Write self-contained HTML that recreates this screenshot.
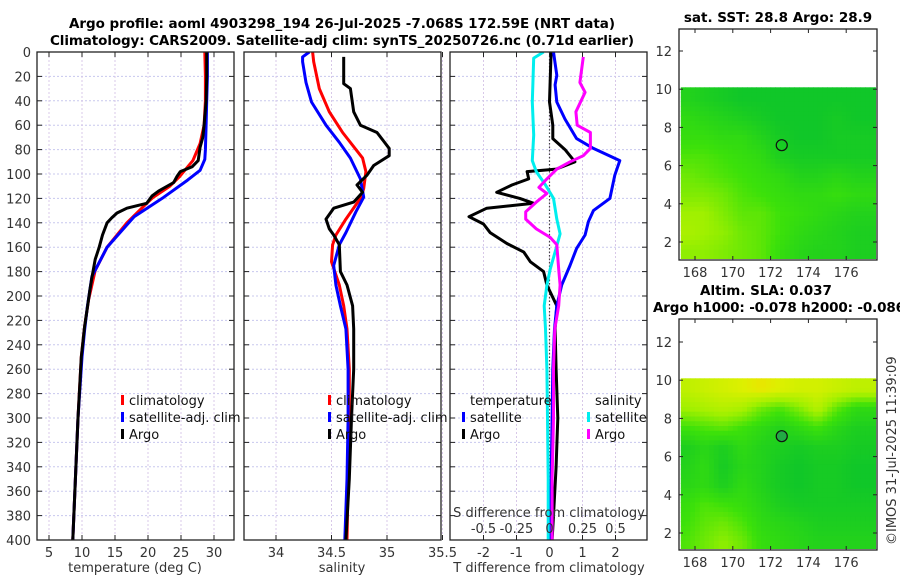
<!DOCTYPE html>
<html><head><meta charset="utf-8"><title>Argo profile</title>
<style>
html,body{margin:0;padding:0;background:#fff;}
svg{display:block;font-family:"DejaVu Sans","Liberation Sans",sans-serif;}
.tk{font-size:13px;fill:#333;}
.tt{font-size:13.5px;font-weight:bold;fill:#000;}
.lg{font-size:13px;fill:#111;}
</style></head>
<body>
<svg id="chart" width="900" height="580" viewBox="0 0 900 580" xmlns="http://www.w3.org/2000/svg">
<text class="tt" x="342" y="28" text-anchor="middle" textLength="546">Argo profile: aoml 4903298_194 26-Jul-2025 -7.068S 172.59E (NRT data)</text>
<text class="tt" x="342" y="45" text-anchor="middle" textLength="584">Climatology: CARS2009. Satellite-adj clim: synTS_20250726.nc (0.71d earlier)</text>
<text class="tt" x="778" y="22" text-anchor="middle">sat. SST: 28.8 Argo: 28.9</text>
<text class="tt" x="766" y="295" text-anchor="middle">Altim. SLA: 0.037</text>
<text class="tt" x="653" y="312" textLength="252">Argo h1000: -0.078 h2000: -0.086</text>
<text class="tk" transform="translate(896,545) rotate(-90)">©IMOS 31-Jul-2025 11:39:09</text>
<g id="layer"></g>
</svg>
<script>
// ---- data ----
const depthTicks = [0,20,40,60,80,100,120,140,160,180,200,220,240,260,280,300,320,340,360,380,400];
const tempTicks = [5,10,15,20,25,30];
const salTicks = [34,34.5,35,35.5];
const salTickLabels = ["34","34.5","35","35.5"];
const tdiffTicks = [-2,-1,0,1,2];
const sdiffTicks = [-0.5,-0.25,0,0.25,0.5];
const sdiffTickLabels = ["-0.5","-0.25","0","0.25","0.5"];

const argoTDepth = [0,20,40,60,70,78,89,94,98,102,107,114,118,124,128,132,136,140,150,160,170,185,195,210,225,250,300,350,400];
const argoTValue = [28.9,28.9,28.8,28.5,28.3,27.9,27.6,26.7,24.9,24.4,23.9,21.6,20.6,19.8,16.8,15.3,14.5,13.8,13.1,12.6,12.0,11.5,11.2,10.8,10.4,9.9,9.4,9.0,8.6];
const climTDepth = [0,20,40,60,75,89,102,110,119,124,140,160,179,203,225,250,300,350,400];
const climTValue = [28.6,28.7,28.7,28.5,27.9,26.8,24.8,23.3,20.8,19.8,16.8,13.8,12.0,11.0,10.4,9.9,9.4,9.0,8.6];
const satTDepth = [0,20,40,60,80,88,97,105,119,135,160,184,209,228,250,300,350,400];
const satTValue = [29.0,29.0,28.9,28.8,28.7,28.6,27.9,26.0,22.4,17.9,13.8,11.5,10.8,10.4,10.0,9.4,9.0,8.6];

const argoSDepth = [4,26,30,49,60,66,79,85,93,101,109,115,123,128,137,145,150,158,180,191,208,227,260,300,350,400];
const argoSValue = [34.61,34.61,34.67,34.70,34.76,34.91,35.02,35.02,34.88,34.82,34.73,34.78,34.70,34.52,34.45,34.48,34.52,34.57,34.58,34.64,34.69,34.70,34.70,34.68,34.66,34.63];
const climSDepth = [0,8,30,49,66,87,98,112,120,137,150,158,172,191,208,227,260,300,350,400];
const climSValue = [34.33,34.34,34.39,34.48,34.60,34.78,34.81,34.79,34.76,34.63,34.54,34.51,34.50,34.57,34.61,34.64,34.66,34.66,34.65,34.64];
const satSDepth = [0,4,8,25,41,60,74,87,104,119,131,148,158,175,191,208,227,260,300,350,400];
const satSValue = [34.30,34.24,34.24,34.27,34.32,34.45,34.57,34.67,34.76,34.79,34.72,34.63,34.57,34.52,34.54,34.58,34.63,34.65,34.65,34.64,34.62];

const argoTdDepth = [0,41,60,71,80,90,96,98,104,109,115,120,124,128,135,141,148,157,164,172,180,191,208,227,260,300,340,380,400];
const argoTdValue = [0.05,0.0,0.1,0.1,0.47,0.77,0.2,-0.68,-0.63,-1.14,-1.6,-0.9,-0.48,-1.9,-2.44,-2.0,-1.8,-1.29,-0.78,-0.58,-0.18,-0.08,0.22,0.17,0.2,0.25,0.2,0.12,0.08];
const satTdDepth = [0,19,27,41,55,71,79,89,101,120,130,139,150,161,175,191,208,227,260,300,350,400];
const satTdValue = [0.12,0.22,0.17,0.22,0.47,0.82,1.33,2.13,1.98,1.83,1.33,1.18,1.08,0.82,0.62,0.37,0.22,0.15,0.1,0.08,0.05,0.03];
const satSdDepth = [0,5,41,68,89,98,109,120,137,149,161,178,191,208,227,260,300,350,400];
const satSdValue = [-0.045,-0.12,-0.13,-0.12,-0.13,-0.1,-0.03,0.03,0.055,0.08,0.05,0.005,-0.02,-0.04,-0.03,-0.02,-0.015,-0.01,-0.01];
const argoSdDepth = [4,25,33,49,60,66,79,85,90,96,104,111,116,123,131,137,145,152,158,178,191,208,227,260,300,350,400];
const argoSdValue = [0.256,0.23,0.27,0.2,0.21,0.31,0.31,0.256,0.156,0.055,-0.02,-0.08,-0.02,-0.1,-0.18,-0.18,-0.1,0.005,0.055,0.07,0.08,0.07,0.04,0.03,0.03,0.02,0.02];

const lonTicks = [168,170,172,174,176];
const latTicks = [2,4,6,8,10,12];
const gridLons = [167.5,168.5,169.5,170.5,171.5,172.5,173.5,174.5,175.5,176.5,177.5];
const gridLats = [9.5,8.5,7.5,6.5,5.5,4.5,3.5,2.5,1.5];
const sstGrid = [
[0.2,0.15,0.1,0.05,0.05,0.05,0.05,0.05,0.05,0.05,0.05],
[0.3,0.25,0.2,0.15,0.1,0.05,0.05,0.05,0.1,0.05,0.05],
[0.35,0.35,0.3,0.3,0.2,0.1,0.05,0.05,0.1,0.1,0.1],
[0.45,0.45,0.4,0.35,0.3,0.15,0.1,0.1,0.1,0.1,0.1],
[0.55,0.5,0.45,0.4,0.35,0.3,0.2,0.2,0.25,0.2,0.2],
[0.6,0.6,0.55,0.45,0.4,0.35,0.3,0.3,0.35,0.3,0.3],
[0.7,0.7,0.6,0.5,0.5,0.4,0.35,0.3,0.25,0.2,0.2],
[0.75,0.7,0.65,0.55,0.5,0.4,0.3,0.25,0.2,0.15,0.15],
[0.65,0.65,0.6,0.55,0.5,0.35,0.25,0.2,0.2,0.15,0.15]];
const slaGrid = [
[0.85,0.9,0.95,1.0,1.05,1.0,0.95,0.95,0.9,0.85,0.85],
[0.7,0.75,0.8,0.75,0.55,0.45,0.6,0.8,0.5,0.3,0.3],
[0.4,0.45,0.5,0.4,0.3,0.2,0.3,0.4,0.25,0.15,0.15],
[0.15,0.25,0.15,0.3,0.2,0.15,0.1,0.15,0.15,0.1,0.1],
[0.2,0.3,0.1,0.25,0.2,0.1,0.05,0.1,0.1,0.05,0.05],
[0.25,0.3,0.15,0.3,0.2,0.1,0.05,0.1,0.1,0.05,0.05],
[0.35,0.45,0.4,0.35,0.25,0.15,0.1,0.1,0.1,0.1,0.1],
[0.4,0.5,0.55,0.45,0.3,0.25,0.2,0.15,0.15,0.15,0.15],
[0.45,0.55,0.65,0.55,0.35,0.3,0.25,0.2,0.2,0.2,0.2]];
const floatLon = 172.59;
const floatLat = 7.068;

// ---- helpers ----
const NS = "http://www.w3.org/2000/svg";
const layer = document.getElementById('layer');
function mk(tag, attrs, parent){ const e=document.createElementNS(NS,tag); for(const k in attrs) e.setAttribute(k,attrs[k]); (parent||layer).appendChild(e); return e; }
const Y0=52, Y1=540;
const yD = d => Y0 + d*(Y1-Y0)/400;
const xT = t => 49 + (t-5)*6.6;
const xS = s => 276 + (s-34)*111;
const xTd = v => 549.5 + v*33;
const xSd = v => 549.5 + v*132;

function panel(name, x0, x1, xticks, xfun, labels){
  const g = mk('g',{});
  
  
  depthTicks.forEach(d=>{
    const l = mk('line',{x1:x0,x2:x1,y1:yD(d),y2:yD(d),stroke:'#c8c8ee','stroke-width':1,'stroke-dasharray':'2,2'},g);
    
    
    mk('line',{x1:x0,x2:x0+5,y1:yD(d),y2:yD(d),stroke:'#222'},g);
    mk('line',{x1:x1-5,x2:x1,y1:yD(d),y2:yD(d),stroke:'#222'},g);
  });
  xticks.forEach((t,i)=>{
    const x=xfun(t);
    const l = mk('line',{x1:x,x2:x,y1:Y0,y2:Y1,stroke:'#d8c8e8','stroke-width':1,'stroke-dasharray':'2,2'},g);
    
    
    mk('line',{x1:x,x2:x,y1:Y1-5,y2:Y1,stroke:'#222'},g);
    mk('line',{x1:x,x2:x,y1:Y0,y2:Y0+5,stroke:'#222'},g);
    if(labels){
      const tx = mk('text',{x:x,y:557,'text-anchor':'middle',class:'tk'},g);
      tx.textContent = labels[i];
      
      
    }
  });
  return g;
}
function frame(name,x0,x1){
  const r = mk('rect',{x:x0,y:Y0,width:x1-x0,height:Y1-Y0,fill:'none',stroke:'#222','stroke-width':1.3});
  
  
}
function series(name, depths, vals, xfun, color, clip){
  const pts = depths.map((d,i)=>xfun(vals[i]).toFixed(1)+','+yD(d).toFixed(1)).join(' ');
  const p = mk('polyline',{points:pts,fill:'none',stroke:color,'stroke-width':3,'stroke-linejoin':'round','clip-path':'url(#'+clip+')'});
  
  
}
const defs = mk('defs',{});
[['c1',37,234],['c2',244,441],['c3',450,647]].forEach(c=>{
  const cp = mk('clipPath',{id:c[0]},defs);
  mk('rect',{x:c[1],y:Y0,width:c[2]-c[1],height:Y1-Y0},cp);
});

depthTicks.forEach(d=>{
  const t = mk('text',{x:31,y:yD(d)+5,'text-anchor':'end',class:'tk'});
  t.textContent = d;
  
  
});

panel('temperature-panel',37,234,tempTicks,xT,tempTicks.map(String));
series('temp-climatology-line',climTDepth,climTValue,xT,'#ff0000','c1');
series('temp-satellite-line',satTDepth,satTValue,xT,'#0000ff','c1');
series('temp-argo-line',argoTDepth,argoTValue,xT,'#000000','c1');
frame('temperature-axes',37,234);
panel('salinity-panel',244,441,salTicks,xS,salTickLabels);
series('sal-climatology-line',climSDepth,climSValue,xS,'#ff0000','c2');
series('sal-satellite-line',satSDepth,satSValue,xS,'#0000ff','c2');
series('sal-argo-line',argoSDepth,argoSValue,xS,'#000000','c2');
frame('salinity-axes',244,441);
panel('difference-panel',450,647,tdiffTicks,xTd,tdiffTicks.map(String));
mk('line',{x1:xTd(0),x2:xTd(0),y1:Y0,y2:Y1,stroke:'#444','stroke-width':1.2,'stroke-dasharray':'1.5,2'});
series('tdiff-argo-line',argoTdDepth,argoTdValue,xTd,'#000000','c3');
series('tdiff-satellite-line',satTdDepth,satTdValue,xTd,'#0000ff','c3');
series('sdiff-satellite-line',satSdDepth,satSdValue,xSd,'#00eeee','c3');
series('sdiff-argo-line',argoSdDepth,argoSdValue,xSd,'#ff00ff','c3');
frame('difference-axes',450,647);
sdiffTicks.forEach((v,i)=>{
  const t = mk('text',{x:xSd(v),y:533,'text-anchor':'middle',class:'tk'});
  t.textContent = sdiffTickLabels[i];
  
  
});

[['temperature (deg C)',135,'temperature-axis-title'],['salinity',342,'salinity-axis-title'],['T difference from climatology',549,'tdiff-axis-title']].forEach(a=>{
  const t = mk('text',{x:a[1],y:572,'text-anchor':'middle',class:'tk'});
  t.textContent=a[0];
  
  
});
const sdt = mk('text',{x:549,y:517,'text-anchor':'middle',class:'tk'});
sdt.textContent='S difference from climatology';



function legend(name,x,y,color,label){
  const g = mk('g',{});
  
  
  mk('rect',{x:x,y:y-10,width:3,height:10,fill:color},g);
  const t = mk('text',{x:x+8,y:y,class:'lg'},g);
  t.textContent=label;
}
legend('legend-climatology',121,405,'#ff0000','climatology');
legend('legend-satellite-adj',121,422,'#0000ff','satellite-adj. clim');
legend('legend-argo',121,439,'#000000','Argo');
legend('legend-sal-climatology',328,405,'#ff0000','climatology');
legend('legend-sal-satellite-adj',328,422,'#0000ff','satellite-adj. clim');
legend('legend-sal-argo',328,439,'#000000','Argo');
const lt1 = mk('text',{x:470,y:405,class:'lg'}); lt1.textContent='temperature';
 
const lt2 = mk('text',{x:595,y:405,class:'lg'}); lt2.textContent='salinity';
 
legend('legend-tdiff-satellite',462,422,'#0000ff','satellite');
legend('legend-tdiff-argo',462,439,'#000000','Argo');
legend('legend-sdiff-satellite',587,422,'#00eeee','satellite');
legend('legend-sdiff-argo',587,439,'#ff00ff','Argo');

// maps
function colorOf(v){
  const stops=[[0,[10,195,45]],[0.4,[60,225,10]],[0.7,[160,240,0]],[1,[220,240,0]],[1.1,[245,220,0]]];
  v=Math.max(0,v);
  for(let i=1;i<stops.length;i++){
    if(v<=stops[i][0]){const a=stops[i-1],b=stops[i],f=(v-a[0])/(b[0]-a[0]);
      return 'rgb('+a[1].map((c,k)=>Math.round(c+(b[1][k]-c)*f)).join(',')+')';}
  }
  return 'rgb(245,220,0)';
}
function sample(grid, lo, la){
  // bilinear lookup in the read grid
  let fc = Math.min(Math.max(lo-gridLons[0],0),gridLons.length-1.0001);
  let fr = Math.min(Math.max(gridLats[0]-la,0),gridLats.length-1.0001);
  const c=Math.floor(fc), r=Math.floor(fr), dc=fc-c, dr=fr-r;
  const a=grid[r][c], b=grid[r][c+1], d=grid[r+1][c], e=grid[r+1][c+1];
  return a*(1-dc)*(1-dr)+b*dc*(1-dr)+d*(1-dc)*dr+e*dc*dr;
}
function drawMap(name, grid, top, bottom, filledCircle){
  const bx0=679,bx1=877;
  const lat2y = (top===29)?242:533;
  const latPx = 19.1;
  const yL = la => lat2y - (la-2)*latPx;
  const xL = lo => 695 + (lo-168)*18.9;
  const g = mk('g',{});
  
  
  const cid='clip-'+name;
  const cp = mk('clipPath',{id:cid},defs);
  mk('rect',{x:bx0+1,y:top,width:bx1-bx0-2,height:bottom-top-1},cp);
  const cells = mk('g',{'clip-path':'url(#'+cid+')'},g);
  const step=0.25;
  for(let la=10.1; la>0.9; la-=step){
    for(let lo=167.25; lo<178; lo+=step){
      const v = sample(grid, lo+step/2, la-step/2);
      const cell = mk('rect',{x:xL(lo).toFixed(1),y:yL(la).toFixed(1),width:(18.9*step+0.5).toFixed(2),height:(latPx*step+0.5).toFixed(2),fill:colorOf(v)},cells);
      
      
    }
  }
  mk('rect',{x:bx0,y:top,width:bx1-bx0,height:bottom-top,fill:'none',stroke:'#222','stroke-width':1.3},g);
  latTicks.forEach(la=>{
    const y=yL(la);
    mk('line',{x1:bx0,x2:bx0+4,y1:y,y2:y,stroke:'#222'},g);
    mk('line',{x1:bx1-4,x2:bx1,y1:y,y2:y,stroke:'#222'},g);
    const t=mk('text',{x:672,y:y+5,'text-anchor':'end',class:'tk'},g); t.textContent=la;
    
    
  });
  lonTicks.forEach(lo=>{
    const x=xL(lo);
    mk('line',{x1:x,x2:x,y1:bottom-4,y2:bottom,stroke:'#222'},g);
    mk('line',{x1:x,x2:x,y1:top,y2:top+4,stroke:'#222'},g);
    const t=mk('text',{x:x,y:bottom+17,'text-anchor':'middle',class:'tk'},g); t.textContent=lo;
    
    
  });
  const circ = mk('circle',{cx:xL(floatLon),cy:yL(floatLat),r:5.5,fill:filledCircle?'#22aa44':'none',stroke:'#111','stroke-width':1.2},g);
  
  
}
drawMap('sst-map', sstGrid, 29, 260, false);
drawMap('sla-map', slaGrid, 319, 550, true);
</script>
</body></html>
